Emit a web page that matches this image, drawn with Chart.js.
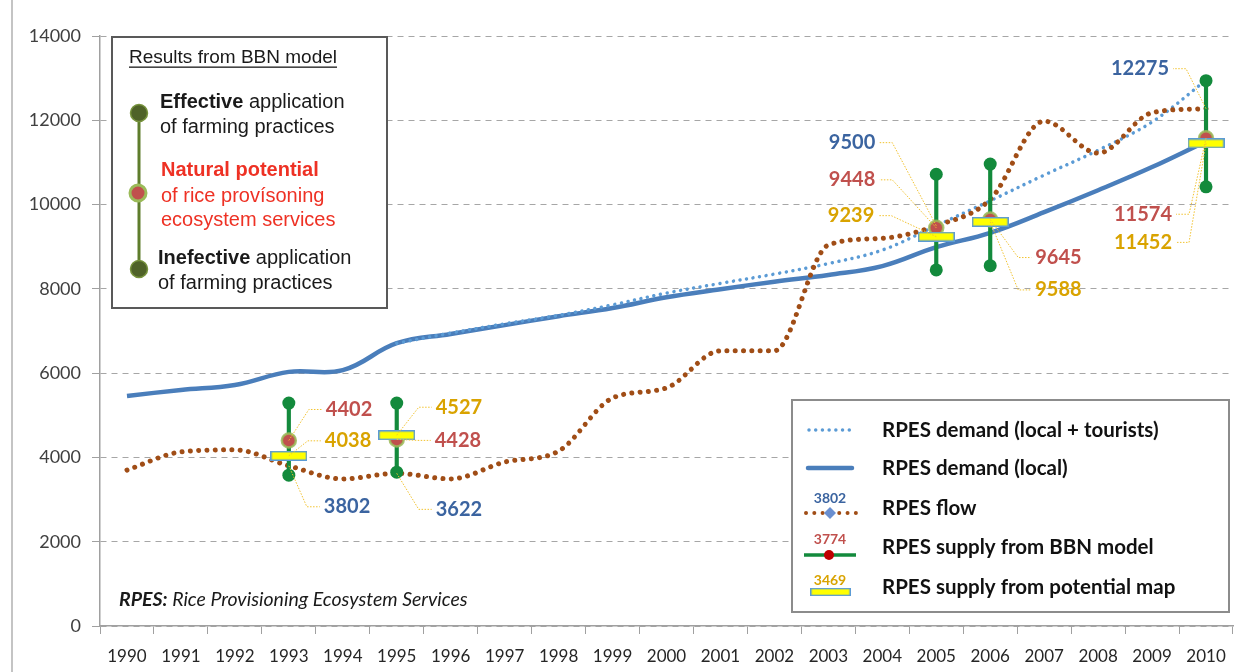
<!DOCTYPE html>
<html>
<head>
<meta charset="utf-8">
<script src="https://cdn.jsdelivr.net/npm/chart.js@4.4.0/dist/chart.umd.min.js"></script>
<style>
  html, body { margin: 0; padding: 0; background: #fff; }
  #wrap { position: relative; width: 1244px; height: 672px; }
</style>
</head>
<body>
<div id="wrap"><canvas id="plot" width="1244" height="672"></canvas></div>
<script>
// years on the category axis
const years = ['1990', '1991', '1992', '1993', '1994', '1995', '1996', '1997', '1998', '1999', '2000',
  '2001', '2002', '2003', '2004', '2005', '2006', '2007', '2008', '2009', '2010'];

// RPES demand (local population)
const demandLocal = [5460, 5600, 5720, 6030, 6070, 6710, 6930, 7140, 7350, 7545, 7800,
  7990, 8170, 8330, 8540, 8990, 9330, 9820, 10340, 10890, 11500];

// RPES demand (local + tourists)
const demandTourists = [null, null, null, null, null, 6710, 6950, 7170, 7370, 7620, 7900,
  8130, 8350, 8600, 8920, 9500, 10090, 10700, 11290, 11960, 12950];

// RPES flow
const flow = [3700, 4130, 4180, 3802, 3490, 3622, 3490, 3890, 4150, 5410, 5650,
  6530, 6530, 9040, 9200, 9500, 10120, 11980, 11220, 12180, 12275];

// RPES supply from BBN model: natural potential, effective (high), inefective (low)
const bbnMid = [null, null, null, 4402, null, 4428, null, null, null, null, null,
  null, null, null, null, 9448, 9645, null, null, null, 11574];
const bbnHigh = [null, null, null, 5290, null, 5290, null, null, null, null, null,
  null, null, null, null, 10720, 10960, null, null, null, 12940];
const bbnLow = [null, null, null, 3580, null, 3650, null, null, null, null, null,
  null, null, null, null, 8450, 8550, null, null, null, 10420];

// RPES supply from potential map
const mapSupply = [null, null, null, 4038, null, 4527, null, null, null, null, null,
  null, null, null, null, 9239, 9588, null, null, null, 11452];

const yTicks = [0, 2000, 4000, 6000, 8000, 10000, 12000, 14000];

const RED = '#c0504d', GOLD = '#d9a300', BLUE_TXT = '#3b64a0';
const GREEN = '#138a3c', BROWN = '#a04d16', BLUE = '#4a7ebb', BLUE_LT = '#5b9bd5';

// yellow box used as point style for the potential map values
const mapMark = document.createElement('canvas');
mapMark.width = 37; mapMark.height = 10;
(() => {
  const g = mapMark.getContext('2d');
  g.fillStyle = BLUE_LT; g.fillRect(0, 0, 37, 10);
  g.fillStyle = '#ffff00'; g.fillRect(1.5, 1.5, 34, 7);
})();

// where each value label sits relative to its point: [series, year, dx, dy, align]
const labelSpots = [
  ['bbn', '1993', 37, -31, 'left'],
  ['map', '1993', 36, -15, 'left'],
  ['flow', '1993', 35, 41, 'left'],
  ['map', '1995', 39, -28, 'left'],
  ['bbn', '1995', 38, 1, 'left'],
  ['flow', '1995', 39, 36, 'left'],
  ['flow', '2005', -61, -83, 'right'],
  ['bbn', '2005', -61, -48, 'right'],
  ['map', '2005', -62, -21, 'right'],
  ['bbn', '2006', 45, 38, 'left'],
  ['map', '2006', 45, 68, 'left'],
  ['flow', '2010', -37, -40, 'right'],
  ['bbn', '2010', -34, 76, 'right'],
  ['map', '2010', -34, 99, 'right']
];
const seriesFor = { flow: flow, bbn: bbnMid, map: mapSupply };
const colorFor = { flow: BLUE_TXT, bbn: RED, map: GOLD };

let valueLabels = {
  id: 'valueLabels',
  afterDatasetsDraw(chart) {
    const ctx = chart.ctx;
    const xs = chart.scales.x, ys = chart.scales.y;
    ctx.save();
    labelSpots.forEach(([s, yr, dx, dy, align]) => {
      const i = years.indexOf(yr);
      const v = seriesFor[s][i];
      const px = xs.getPixelForValue(i), py = ys.getPixelForValue(v);
      const tx = px + dx, ty = py + dy;
      // leader line
      const edge = align === 'left' ? tx - 4 : tx + 4;
      const elbow = align === 'left' ? edge - 13 : edge + 13;
      ctx.setLineDash([1.5, 1.5]);
      ctx.strokeStyle = '#f2c330';
      ctx.lineWidth = 1;
      ctx.beginPath();
      ctx.moveTo(px, py);
      ctx.lineTo(elbow, ty);
      ctx.lineTo(edge, ty);
      ctx.stroke();
      ctx.setLineDash([]);
      ctx.font = 'bold 20px Lato';
      ctx.fillStyle = colorFor[s];
      ctx.textAlign = align;
      ctx.textBaseline = 'middle';
      ctx.fillText(String(v), tx, ty);
    });
    ctx.restore();
  }
};

let boxes = {
  id: 'boxes',
  beforeDraw(chart) {
    const ctx = chart.ctx;
    ctx.save();
    ctx.fillStyle = '#fff';
    ctx.fillRect(0, 0, chart.width, chart.height);
    ctx.strokeStyle = '#c4c4c4';
    ctx.lineWidth = 2;
    ctx.beginPath();
    ctx.moveTo(12, 0); ctx.lineTo(12, 672);
    ctx.stroke();
    ctx.restore();
  },
  afterDatasetsDraw(chart) {
    const ctx = chart.ctx;
    ctx.save();

    // "Results from BBN model" box
    ctx.fillStyle = '#fff';
    ctx.fillRect(112, 37, 275, 271);
    ctx.strokeStyle = '#595959';
    ctx.lineWidth = 2;
    ctx.strokeRect(112, 37, 275, 271);

    ctx.textBaseline = 'middle';
    ctx.textAlign = 'left';
    ctx.fillStyle = '#1a1a1a';
    ctx.font = '19px "Liberation Sans"';
    const title = 'Results from BBN model';
    ctx.fillText(title, 129, 58);
    const tw = ctx.measureText(title).width;
    ctx.fillRect(129, 66.5, tw, 1.3);

    ctx.strokeStyle = '#5e7d2c';
    ctx.lineWidth = 3;
    ctx.beginPath();
    ctx.moveTo(139, 113); ctx.lineTo(139, 269);
    ctx.stroke();
    [113, 269].forEach(cy => {
      ctx.beginPath();
      ctx.arc(139, cy, 8.5, 0, Math.PI * 2);
      ctx.fillStyle = '#4f6228';
      ctx.fill();
      ctx.strokeStyle = '#77933c';
      ctx.lineWidth = 1.5;
      ctx.stroke();
    });
    ctx.beginPath();
    ctx.arc(138, 193, 8, 0, Math.PI * 2);
    ctx.fillStyle = RED;
    ctx.fill();
    ctx.strokeStyle = '#9bbb59';
    ctx.lineWidth = 3;
    ctx.stroke();

    const mixed = (bold, rest, x, y, col) => {
      ctx.fillStyle = col;
      ctx.font = 'bold 20px "Liberation Sans"';
      ctx.fillText(bold, x, y);
      const w = ctx.measureText(bold).width;
      ctx.font = '20px "Liberation Sans"';
      ctx.fillText(rest, x + w, y);
    };
    mixed('Effective', ' application', 160, 102, '#1a1a1a');
    ctx.fillText('of farming practices', 160, 127);
    ctx.fillStyle = '#ee3124';
    ctx.font = 'bold 20px "Liberation Sans"';
    ctx.fillText('Natural potential', 161, 170);
    ctx.font = '20px "Liberation Sans"';
    ctx.fillText('of rice provísoning', 161, 196);
    ctx.fillText('ecosystem services', 161, 220);
    mixed('Inefective', ' application', 158, 258, '#1a1a1a');
    ctx.fillText('of farming practices', 158, 283);

    // series legend
    const L = 792, T = 400;
    ctx.fillStyle = '#fff';
    ctx.fillRect(L, T, 437, 212);
    ctx.strokeStyle = '#8c8c8c';
    ctx.lineWidth = 2;
    ctx.strokeRect(L, T, 437, 212);

    ctx.lineCap = 'round';
    // dotted blue
    ctx.strokeStyle = BLUE_LT; ctx.lineWidth = 3.5; ctx.setLineDash([0.01, 6.7]);
    ctx.beginPath(); ctx.moveTo(809, 430); ctx.lineTo(852, 430); ctx.stroke();
    // solid blue
    ctx.setLineDash([]); ctx.strokeStyle = BLUE; ctx.lineWidth = 4.5;
    ctx.beginPath(); ctx.moveTo(808, 468); ctx.lineTo(852, 468); ctx.stroke();
    // brown dotted with diamond
    ctx.strokeStyle = BROWN; ctx.lineWidth = 4; ctx.setLineDash([0.01, 8.3]);
    ctx.beginPath(); ctx.moveTo(806, 513); ctx.lineTo(856, 513); ctx.stroke();
    ctx.setLineDash([]);
    ctx.fillStyle = '#6a8fd0';
    ctx.beginPath(); ctx.moveTo(830, 507); ctx.lineTo(836, 513); ctx.lineTo(830, 519); ctx.lineTo(824, 513); ctx.closePath(); ctx.fill();
    // green with red dot
    ctx.lineCap = 'butt';
    ctx.strokeStyle = GREEN; ctx.lineWidth = 3.5;
    ctx.beginPath(); ctx.moveTo(804, 555); ctx.lineTo(856, 555); ctx.stroke();
    ctx.fillStyle = '#c00000';
    ctx.beginPath(); ctx.arc(829, 555, 5, 0, Math.PI * 2); ctx.fill();
    // yellow bar
    ctx.drawImage(mapMark, 810, 588, 41, 8);

    ctx.textAlign = 'center';
    ctx.font = 'bold 14px Lato';
    ctx.fillStyle = BLUE_TXT; ctx.fillText('3802', 830, 498);
    ctx.fillStyle = RED; ctx.fillText('3774', 830, 539);
    ctx.fillStyle = GOLD; ctx.fillText('3469', 830, 580);

    ctx.textAlign = 'left';
    ctx.fillStyle = '#111';
    ctx.font = 'bold 20.5px Lato';
    ctx.fillText('RPES demand (local + tourists)', 882, 430);
    ctx.fillText('RPES demand (local)', 882, 468);
    ctx.fillText('RPES flow', 882, 508);
    ctx.fillText('RPES supply from BBN model', 882, 547);
    ctx.fillText('RPES supply from potential map', 882, 587);

    // footnote
    ctx.fillStyle = '#1a1a1a';
    ctx.font = 'italic bold 19.5px Lato';
    ctx.fillText('RPES:', 119, 600);
    const fw = ctx.measureText('RPES:').width;
    ctx.font = 'italic 19.5px Lato';
    ctx.fillText(' Rice Provisioning Ecosystem Services', 119 + fw, 600);

    ctx.restore();
  }
};

const bbnRange = bbnLow.map((lo, i) => lo == null ? null : [lo, bbnHigh[i]]);

new Chart(document.getElementById('plot'), {
  type: 'line',
  data: {
    labels: years,
    datasets: [
      {
        label: 'RPES supply from potential map',
        data: mapSupply,
        showLine: false,
        pointStyle: mapMark,
        pointRadius: 10,
        order: 0
      },
      {
        label: 'RPES supply from BBN model',
        data: bbnMid,
        showLine: false,
        pointRadius: 7,
        pointBackgroundColor: RED,
        pointBorderColor: 'rgba(155,187,89,0.85)',
        pointBorderWidth: 2.5,
        order: 1
      },
      {
        label: 'Effective application',
        data: bbnHigh,
        showLine: false,
        pointRadius: 6.5,
        pointBackgroundColor: GREEN,
        pointBorderWidth: 0,
        order: 2
      },
      {
        label: 'Inefective application',
        data: bbnLow,
        showLine: false,
        pointRadius: 6.5,
        pointBackgroundColor: GREEN,
        pointBorderWidth: 0,
        order: 2
      },
      {
        type: 'bar',
        label: 'BBN range',
        data: bbnRange,
        backgroundColor: GREEN,
        barThickness: 3.5,
        order: 3
      },
      {
        label: 'RPES demand (local + tourists)',
        data: demandTourists,
        borderColor: BLUE_LT,
        borderWidth: 3.5,
        borderDash: [0.01, 6.7],
        borderCapStyle: 'round',
        tension: 0.35,
        pointRadius: 0,
        order: 5
      },
      {
        label: 'RPES flow',
        data: flow,
        borderColor: BROWN,
        borderWidth: 5,
        borderDash: [0.01, 8.3],
        borderCapStyle: 'round',
        cubicInterpolationMode: 'monotone',
        pointRadius: 0,
        order: 4
      },
      {
        label: 'RPES demand (local)',
        data: demandLocal,
        borderColor: BLUE,
        borderWidth: 4.5,
        tension: 0.4,
        pointRadius: 0,
        order: 6
      }
    ]
  },
  options: {
    responsive: false,
    animation: false,
    layout: { padding: { left: 0, right: 8, top: 36, bottom: 0 } },
    plugins: {
      legend: { display: false },
      tooltip: { enabled: false }
    },
    scales: {
      x: {
        type: 'category',
        offset: true,
        afterFit: s => { s.height = 46; },
        grid: {
          offset: true,
          drawOnChartArea: false,
          drawTicks: true,
          tickLength: 8,
          color: '#a0a0a0'
        },
        border: { color: '#a0a0a0', width: 1.5 },
        ticks: {
          font: { family: 'Lato', size: 17 },
          color: '#262626',
          padding: 12,
          maxRotation: 0,
          autoSkip: false
        }
      },
      y: {
        min: 0,
        max: 14000,
        afterFit: s => { s.width = 100; },
        afterBuildTicks: s => { s.ticks = yTicks.map(v => ({ value: v })); },
        grid: {
          color: '#a6a6a6',
          tickColor: '#a0a0a0',
          tickLength: 8
        },
        border: { color: '#a0a0a0', width: 1.5, dash: [6, 5] },
        ticks: {
          font: { family: 'Lato', size: 18 },
          color: '#404040',
          padding: 11,
          callback: v => String(v)
        }
      }
    }
  },
  plugins: [boxes, valueLabels]
});
</script>
</body>
</html>
